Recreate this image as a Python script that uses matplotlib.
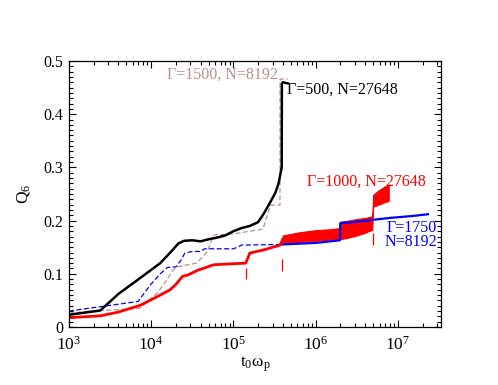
import numpy as np
import matplotlib
matplotlib.use("Agg")
import matplotlib.pyplot as plt
from matplotlib.ticker import LogLocator, FixedLocator, MultipleLocator, FuncFormatter

plt.rcParams['font.family'] = ['Liberation Serif', 'DejaVu Serif']
plt.rcParams['mathtext.fontset'] = 'custom'
plt.rcParams['mathtext.rm'] = 'Liberation Serif'
plt.rcParams['mathtext.it'] = 'Liberation Serif:italic'
plt.rcParams['mathtext.bf'] = 'Liberation Serif:bold'

# ---- data (log10 of t0*omega_p, Q6) ----
logt_black = [3.0, 3.38, 3.6, 3.83, 4.11, 4.25, 4.33, 4.4, 4.5, 4.6, 4.7, 4.8, 4.9, 5.0, 5.1,
              5.2, 5.3, 5.37, 5.45, 5.51, 5.55, 5.575, 5.588, 5.59, 5.60, 5.66]
q_black = [0.023, 0.031, 0.062, 0.088, 0.120, 0.143, 0.157, 0.162, 0.163, 0.161, 0.165, 0.168,
           0.172, 0.180, 0.186, 0.190, 0.197, 0.213, 0.235, 0.252, 0.270, 0.290, 0.300, 0.457,
           0.460, 0.458]

logt_brown = [3.0, 3.38, 3.86, 4.07, 4.19, 4.25, 4.31, 4.55, 4.68, 4.76, 5.0, 5.36, 5.45, 5.567,
              5.568, 5.66]
q_brown = [0.026, 0.031, 0.035, 0.063, 0.088, 0.104, 0.113, 0.120, 0.141, 0.173, 0.175, 0.184,
           0.229, 0.229, 0.466, 0.466]

logt_blue = [3.0, 3.84, 3.99, 4.11, 4.2, 4.3, 4.36, 4.41, 4.5, 4.6, 4.65, 5.0, 5.05, 5.1, 5.57]
q_blue = [0.030, 0.048, 0.079, 0.100, 0.112, 0.113, 0.125, 0.139, 0.142, 0.142, 0.147, 0.147,
          0.150, 0.154, 0.155]
logt_blue_late = [5.57, 6.0, 6.297, 6.30, 6.5, 6.9, 7.2, 7.367]
q_blue_late = [0.155, 0.158, 0.163, 0.195, 0.198, 0.205, 0.209, 0.212]

logt_red = [3.0, 3.38, 3.6, 3.87, 4.11, 4.23, 4.3, 4.38, 4.45, 4.57, 4.65, 4.76, 5.0, 5.15,
            5.2, 5.37, 5.57, 5.6]
q_red = [0.0175, 0.021, 0.028, 0.041, 0.060, 0.070, 0.080, 0.095, 0.098, 0.107, 0.111, 0.117,
         0.119, 0.120, 0.139, 0.145, 0.154, 0.165]
logt_red_band = [5.6, 5.8, 6.0, 6.2, 6.29, 6.30, 6.4, 6.5, 6.6, 6.69, 6.70, 6.75, 6.8, 6.85, 6.89]
q_red_lo = [0.158, 0.160, 0.162, 0.165, 0.166, 0.165, 0.168, 0.172, 0.177, 0.183, 0.226, 0.229,
            0.232, 0.235, 0.237]
q_red_hi = [0.172, 0.178, 0.182, 0.184, 0.186, 0.198, 0.200, 0.203, 0.205, 0.208, 0.248, 0.255,
            0.260, 0.265, 0.268]

# red vertical markers: (log10 t, Q bottom, Q top)
logt_marks = [5.15, 5.587, 6.70]
q_mark_lo = [0.090, 0.106, 0.154]
q_mark_hi = [0.111, 0.127, 0.177]

x_ticks = [1e3, 1e4, 1e5, 1e6, 1e7]
x_ticklabels = [r'$\mathregular{10^{3}}$', r'$\mathregular{10^{4}}$', r'$\mathregular{10^{5}}$',
                r'$\mathregular{10^{6}}$', r'$\mathregular{10^{7}}$']
y_ticks = [0, 0.1, 0.2, 0.3, 0.4, 0.5]
y_ticklabels = ['0', '0.1', '0.2', '0.3', '0.4', '0.5']

BROWN = '#bc8f8f'

def T(a):
    return 10 ** np.asarray(a)

fig = plt.figure(figsize=(4.98, 3.85), dpi=100)
ax = fig.add_axes([69 / 498, 1 - 327 / 385, (441 - 69) / 498, (327 - 61) / 385])

ax.plot(T(logt_brown), q_brown, color=BROWN, lw=0.9, dashes=(4, 2))
ax.plot(T(logt_blue), q_blue, color='blue', lw=0.9, dashes=(4, 2))
ax.plot(T(logt_blue_late), q_blue_late, color='blue', lw=1.6)
ax.plot(T(logt_black), q_black, color='black', lw=1.8)
ax.plot(T(logt_red), q_red, color='red', lw=2.0)
ax.fill_between(T(logt_red_band), q_red_lo, q_red_hi, color='red', lw=0.8, edgecolor='red')
ax.vlines(T(logt_marks), q_mark_lo, q_mark_hi, color='red', lw=0.9)

ax.set_xscale('log')
ax.set_xlim(1e3, 10 ** 7.526)
ax.set_ylim(0, 0.5)

ax.xaxis.set_major_locator(FixedLocator(x_ticks))
ax.set_xticklabels(x_ticklabels)
ax.xaxis.set_minor_locator(LogLocator(base=10, subs=np.arange(2, 10)))
ax.xaxis.set_minor_formatter(FuncFormatter(lambda v, p: ''))
ax.set_yticks(y_ticks)
ax.set_yticklabels(y_ticklabels)
ax.yaxis.set_minor_locator(MultipleLocator(0.01))

ax.tick_params(which='both', direction='in', top=True, right=True, width=0.8)
ax.tick_params(axis='y', labelsize=11.5)
ax.tick_params(axis='x', labelsize=12.5)
ax.tick_params(which='major', length=5, pad=4)
ax.tick_params(axis='x', which='major', pad=6)
ax.tick_params(which='minor', length=2.8)
for s in ax.spines.values():
    s.set_linewidth(0.9)

ax.set_xlabel(r'$\mathregular{t_0\omega_p}$', fontsize=12.5, labelpad=1)
ax.set_ylabel(r'$\mathregular{Q_6}$', fontsize=12.5, labelpad=8)

fs = 11.5
ax.text(10 ** 4.19, 0.474, 'Γ=1500, N=8192', color=BROWN, fontsize=fs, va='center', ha='left')
ax.text(10 ** 5.65, 0.4455, 'Γ=500, N=27648', color='black', fontsize=fs, va='center', ha='left')
ax.text(10 ** 5.895, 0.2726, 'Γ=1000, N=27648', color='red', fontsize=fs, va='center', ha='left')
ax.text(10 ** 7.477, 0.186, 'Γ=1750', color='blue', fontsize=fs, va='center', ha='right')
ax.text(10 ** 7.477, 0.160, 'N=8192', color='blue', fontsize=fs, va='center', ha='right')

fig.savefig('out.png', dpi=100)
